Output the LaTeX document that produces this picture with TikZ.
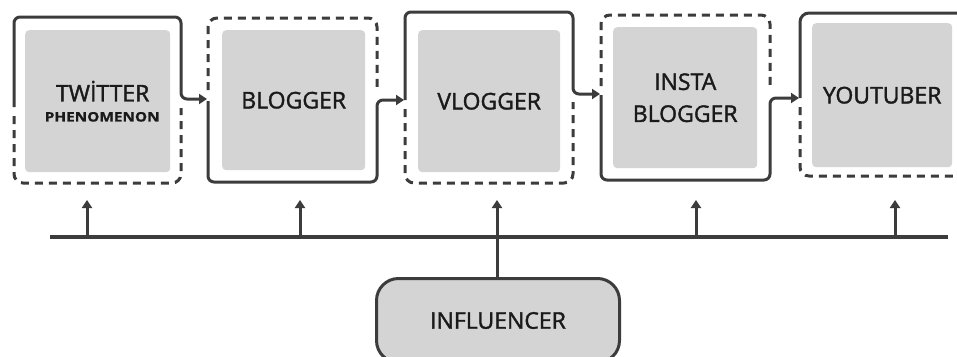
\documentclass[tikz,border=0pt]{standalone}
\usepackage{fontspec}
\setmainfont{Open Sans}
\newfontfamily\semib{Open Sans}[FakeBold=1.6]
\newfontfamily\heavyb{Open Sans Bold}[FakeBold=0.8]
\usetikzlibrary{arrows.meta}
\definecolor{ln}{HTML}{3C3C3C}
\definecolor{gf}{HTML}{D4D4D4}
\definecolor{tx}{HTML}{1A1A1A}
\begin{document}
\begin{tikzpicture}[x=1pt,y=-1pt,
  frame/.style={draw=ln, line width=3pt, rounded corners=9pt},
  dframe/.style={frame, dash pattern=on 8pt off 6pt},
  link/.style={draw=ln, line width=3pt, rounded corners=6pt, -{Triangle[length=8pt,width=10pt]}},
  uparrow/.style={draw=ln, line width=3pt, -{Triangle[length=8pt,width=10pt]}},
  bus/.style={draw=ln, line width=4pt},
  stage/.style={fill=gf, draw=none, rounded corners=4pt, text=tx, align=center,
    inner sep=0pt, anchor=north west, font=\semib\fontsize{23}{32}\selectfont},
  infl/.style={fill=gf, draw=ln, line width=3pt, rounded corners=22pt, text=tx,
    inner sep=0pt, anchor=north west, font=\semib\fontsize{23}{28}\selectfont}]
\useasboundingbox (0,0) rectangle (957,356);
\clip (0,0) rectangle (957,356);
\fill[white] (0,0) rectangle (957,356);

% inner grey stage boxes
\node[stage, minimum width=145pt, minimum height=142pt] (g1) at (25,30)
  {\hspace*{10pt}TWİTTER\\[-12pt]\hspace*{9pt}{\heavyb\fontsize{13}{13}\selectfont\scalebox{1.18}[1]{PHENOMENON}}};
\node[stage, minimum width=143pt, minimum height=140pt] (g2) at (222,30) {BLOGGER};
\node[stage, minimum width=142pt, minimum height=142pt] (g3) at (418,30) {VLOGGER};
\node[stage, minimum width=144pt, minimum height=141pt] (g4) at (613,27) {INSTA\\BLOGGER};
\node[stage, minimum width=140pt, minimum height=144pt] (g5) at (812,23) {YOUTUBER};

% arrow end points on the frames
\coordinate (a12) at (207,99);
\coordinate (a23) at (404,100);
\coordinate (a34) at (600,94);
\coordinate (a45) at (799,98);

% frame 1: solid top, dashed bottom
\draw[link] (14,107) -- (14,17) -- (181,17) -- (181,99) -- (a12);
\draw[dframe] (14,116) -- (14,183) -- (181,183) -- (181,108);
% frame 2: dashed top, solid bottom
\draw[dframe] (208,90) -- (208,18) -- (377,18) -- (377,90);
\draw[link] (208,101) -- (208,182) -- (377,182) -- (377,100) -- (a23);
% frame 3: solid top, dashed bottom
\draw[link] (405,100) -- (405,12) -- (573,12) -- (573,94) -- (a34);
\draw[dframe] (405,109) -- (405,183) -- (573,183) -- (573,102);
% frame 4: dashed top, solid bottom
\draw[dframe] (601,86) -- (601,15) -- (770,15) -- (770,88);
\draw[link] (601,95) -- (601,180) -- (770,180) -- (770,98) -- (a45);
% frame 5: solid top, dashed bottom
\draw[frame] (800,98) -- (800,13) -- (980,13);
\draw[dframe] (800,107) -- (800,176) -- (980,176);

% bus and influencer
\coordinate (busL) at (50,237);
\coordinate (busR) at (948,237);
\draw[bus] (busL) -- (busR);
\node[infl, minimum width=243pt, minimum height=84pt] (inf) at (375,277) {INFLUENCER};

\foreach \x/\n in {87/1,300/2,696/4,895/5}{
  \coordinate (b\n) at (\x,237);
  \coordinate (t\n) at (\x,200);
  \draw[uparrow] (b\n) -- (t\n);
}
\coordinate (t3) at (497,200);
\draw[uparrow] (inf.north -| t3) -- (t3);
\end{tikzpicture}
\end{document}
